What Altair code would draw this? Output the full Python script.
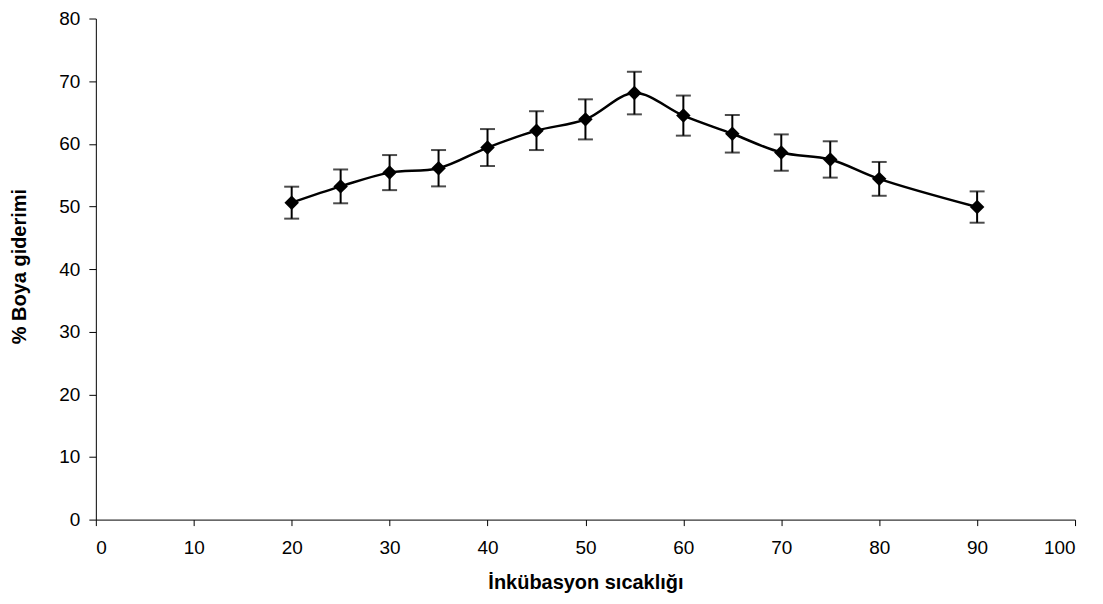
import altair as alt
import pandas as pd

temps = [20, 25, 30, 35, 40, 45, 50, 55, 60, 65, 70, 75, 80, 90]
removal = [50.6, 53.2, 55.4, 56.1, 59.4, 62.1, 63.9, 68.1, 64.5, 61.6, 58.6, 57.5, 54.4, 49.9]
errors = [2.55, 2.7, 2.8, 2.9, 2.95, 3.1, 3.2, 3.4, 3.2, 3.0, 2.9, 2.9, 2.7, 2.5]

df = pd.DataFrame({"t": temps, "r": removal, "e": errors})
df["lo"] = df["r"] - df["e"]
df["hi"] = df["r"] + df["e"]

FONT = "Liberation Sans"

x_enc = alt.X(
    "t:Q",
    scale=alt.Scale(domain=[0, 100], nice=False, zero=False),
    axis=alt.Axis(
        title="İnkübasyon sıcaklığı",
        values=list(range(0, 101, 10)),
        grid=False,
        tickSize=6,
        labelPadding=13,
        titleY=63,
        titleBaseline="middle",
    ),
)
y_enc = alt.Y(
    "r:Q",
    scale=alt.Scale(domain=[0, 80], nice=False),
    axis=alt.Axis(
        title="% Boya giderimi",
        values=list(range(0, 81, 10)),
        grid=False,
        tickSize=7,
        labelPadding=9,
        titleX=-76,
        titleY=248,
        titleBaseline="middle",
    ),
)

base = alt.Chart(df)

line = base.mark_line(color="#000000", strokeWidth=2.5, interpolate="catmull-rom").encode(x=x_enc, y=y_enc)

rules = base.mark_rule(color="#000000", strokeWidth=2).encode(
    x="t:Q", y="lo:Q", y2="hi:Q"
)
cap_lo = base.mark_tick(color="#000000", orient="horizontal", size=15, thickness=2).encode(
    x="t:Q", y="lo:Q"
)
cap_hi = base.mark_tick(color="#000000", orient="horizontal", size=15, thickness=2).encode(
    x="t:Q", y="hi:Q"
)
points = base.mark_point(
    shape="diamond", filled=True, size=210, color="#000000", opacity=1
).encode(x="t:Q", y="r:Q")

chart = (
    alt.layer(line, rules, cap_lo, cap_hi, points)
    .properties(
        width=981,
        height=502,
        autosize=alt.AutoSizeParams(type="none"),
        padding={"left": 88, "top": 10, "right": 20, "bottom": 76},
    )
    .configure_view(stroke=None)
    .configure_axis(
        labelFont=FONT,
        titleFont=FONT,
        labelFontSize=19,
        titleFontSize=20,
        titleFontWeight="bold",
        labelColor="#000000",
        titleColor="#000000",
        domainColor="#000000",
        tickColor="#000000",
        domainWidth=1,
        tickWidth=1,
    )
)

chart.save("out.html", embed_options={"renderer": "svg", "actions": False})
